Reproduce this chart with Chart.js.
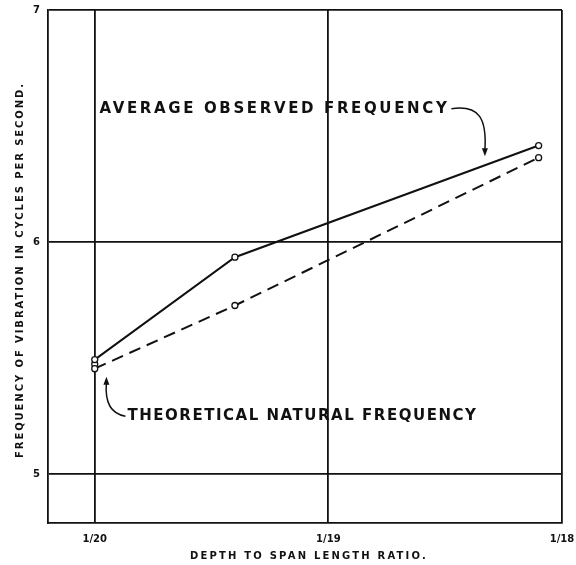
<!DOCTYPE html>
<html>
<head>
<meta charset="utf-8">
<script src="https://cdn.jsdelivr.net/npm/chart.js@4.4.1/dist/chart.umd.min.js"></script>
<style>
    html, body { margin: 0; padding: 0; background: #fff; }
    #wrap { width: 576px; height: 565px; }
</style>
</head>
<body>
<div id="wrap"><canvas id="freqChart" width="576" height="565"></canvas></div>
<script>
// Span-to-depth denominators (x axis is depth/span = 1/n)
const xTicks = [20, 19, 18];
const xTickLabels = ['1/20', '1/19', '1/18'];
const yTicks = [5, 6, 7];

// Average observed frequency (solid line)
const observedX = [20, 19.4, 18.1];
const observedY = [5.494, 5.935, 6.416];

// Theoretical natural frequency (dashed line)
const theoryX = [20, 19.4, 18.1];
const theoryY = [5.455, 5.727, 6.364];

// extra observed reading plotted at 1/20
const extraX = [20];
const extraY = [5.474];

const INK = '#111';
const FONT = '"DejaVu Sans", "Liberation Sans", sans-serif';

function pts(xs, ys) {
    return xs.map((x, i) => ({ x: x, y: ys[i] }));
}

// draw text stretched to a given width with letter spacing
function spacedText(ctx, text, x, y, width) {
    ctx.letterSpacing = '0px';
    const w = ctx.measureText(text).width;
    ctx.letterSpacing = ((width - w) / text.length) + 'px';
    ctx.fillText(text, x, y);
    ctx.letterSpacing = '0px';
}

// Hand-lettered labels, axis titles and curved arrows
const labelPlugin = {
    id: 'labels',
    afterDatasetsDraw(chart) {
        const ctx = chart.ctx;
        const xs = chart.scales.x, ys = chart.scales.y;
        const area = chart.chartArea;
        const px = v => xs.getPixelForValue(v);
        const py = v => ys.getPixelForValue(v);

        ctx.save();
        ctx.fillStyle = INK;
        ctx.strokeStyle = INK;
        ctx.textBaseline = 'middle';
        ctx.textAlign = 'left';

        // axis titles
        ctx.font = 'bold 10px ' + FONT;
        spacedText(ctx, 'DEPTH TO SPAN LENGTH RATIO.', 190, area.bottom + 33, 238);
        ctx.save();
        ctx.translate(20, 0);
        ctx.rotate(-Math.PI / 2);
        spacedText(ctx, 'FREQUENCY OF VIBRATION IN CYCLES PER SECOND.', -458, 0, 376);
        ctx.restore();

        ctx.font = 'bold 15px ' + FONT;
        // observed label
        const t1 = 'AVERAGE OBSERVED FREQUENCY';
        const x1 = px(19.98), y1 = py(6.575), w1 = 350;
        spacedText(ctx, t1, x1, y1, w1);
        const ax = px(18.33), ay = py(6.37);
        ctx.lineWidth = 1.5;
        ctx.beginPath();
        ctx.moveTo(x1 + w1 + 2, y1);
        ctx.bezierCurveTo(x1 + w1 + 30, y1 - 4, ax + 2, y1 + 10, ax, ay - 6);
        ctx.stroke();
        drawHead(ctx, ax, ay, Math.PI / 2);

        // theoretical label
        const t2 = 'THEORETICAL NATURAL FREQUENCY';
        const x2 = px(19.86), y2 = py(5.25);
        spacedText(ctx, t2, x2, y2, 350);
        const bx = px(19.95), by = py(5.42);
        ctx.beginPath();
        ctx.moveTo(x2 - 2, y2);
        ctx.bezierCurveTo(x2 - 14, y2 - 2, bx - 2, y2 - 10, bx, by + 6);
        ctx.stroke();
        drawHead(ctx, bx, by, -Math.PI / 2);
        ctx.restore();
    }
};

function drawHead(ctx, x, y, ang) {
    ctx.save();
    ctx.translate(x, y);
    ctx.rotate(ang);
    ctx.beginPath();
    ctx.moveTo(0, 0);
    ctx.lineTo(-8, -3);
    ctx.lineTo(-8, 3);
    ctx.closePath();
    ctx.fill();
    ctx.restore();
}

const ctx = document.getElementById('freqChart');
new Chart(ctx, {
    type: 'scatter',
    data: {
        datasets: [
            {
                label: 'Average observed frequency',
                data: pts(observedX, observedY),
                showLine: true,
                borderColor: INK,
                borderWidth: 2,
                pointRadius: 3,
                pointBackgroundColor: '#fff',
                pointBorderColor: INK,
                pointBorderWidth: 1.3
            },
            {
                label: 'Theoretical natural frequency',
                data: pts(theoryX, theoryY),
                showLine: true,
                borderColor: INK,
                borderWidth: 2,
                borderDash: [12, 7],
                pointRadius: 3,
                pointBackgroundColor: '#fff',
                pointBorderColor: INK,
                pointBorderWidth: 1.3
            },
            {
                label: 'Observed (second reading)',
                data: pts(extraX, extraY),
                showLine: false,
                pointRadius: 3,
                pointBackgroundColor: '#fff',
                pointBorderColor: INK,
                pointBorderWidth: 1.3
            }
        ]
    },
    options: {
        responsive: false,
        animation: false,
        layout: { padding: { left: 0, top: 10, right: 14, bottom: 0 } },
        plugins: {
            legend: { display: false },
            tooltip: { enabled: false }
        },
        scales: {
            x: {
                type: 'linear',
                reverse: true,
                min: 18,
                max: 20.2,
                afterBuildTicks: s => { s.ticks = xTicks.map(v => ({ value: v })); },
                afterFit: s => { s.height = 42; s.paddingLeft = 0; s.paddingRight = 0; },
                ticks: {
                    color: INK,
                    padding: 10,
                    font: { family: FONT, size: 10, weight: 'bold' },
                    callback: v => xTickLabels[xTicks.indexOf(v)]
                },
                grid: { color: INK, lineWidth: 1.8, drawTicks: false },
                border: { color: INK, width: 1.8 }
            },
            y: {
                type: 'linear',
                min: 4.79,
                max: 7,
                afterBuildTicks: s => { s.ticks = yTicks.map(v => ({ value: v })); },
                afterFit: s => { s.width = 48; s.paddingTop = 0; s.paddingBottom = 0; },
                ticks: {
                    color: INK,
                    padding: 8,
                    font: { family: FONT, size: 10, weight: 'bold' }
                },
                grid: { color: INK, lineWidth: 1.8, drawTicks: false },
                border: { color: INK, width: 1.8 }
            }
        }
    },
    plugins: [labelPlugin]
});
</script>
</body>
</html>
